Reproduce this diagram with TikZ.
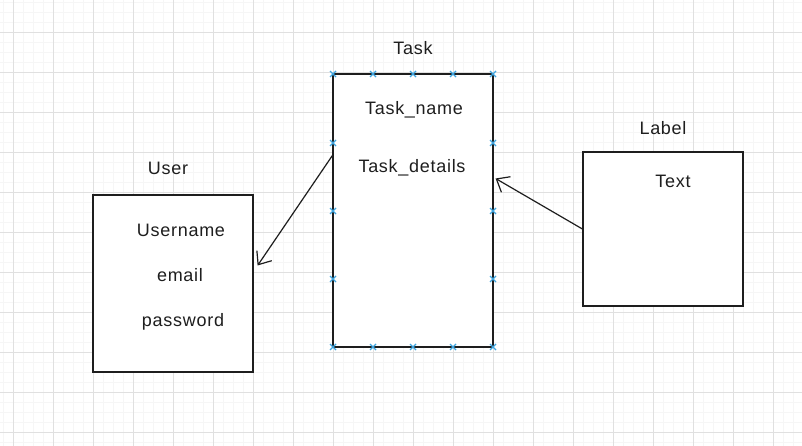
\documentclass[tikz,border=0pt]{standalone}
\usepackage{fontspec}
\setmainfont[LetterSpace=4]{Liberation Sans}
\usetikzlibrary{arrows.meta}
\definecolor{gridmajor}{HTML}{E0E0E0}
\definecolor{gridminor}{HTML}{F6F6F6}
\definecolor{ink}{HTML}{1E1E1E}
\definecolor{handle}{HTML}{3DA5E0}
\tikzset{
  entity/.style={draw=ink, line width=1.2pt, fill=white, rectangle, inner sep=0pt},
  lbl/.style={text=ink, font=\fontsize{18}{21}\selectfont, inner sep=0pt, anchor=center},
  conn/.style={draw=ink, line width=1.2pt, -{Straight Barb[length=11pt,width=18pt,line width=1.2pt]}},
  handlestyle/.style={draw=handle, line width=1.1pt}
}
\newcommand{\handlemark}[2]{\draw[handlestyle] (#1-3,#2-3) -- (#1+3,#2+3) (#1-3,#2+3) -- (#1+3,#2-3);}
\begin{document}
\begin{tikzpicture}[x=1pt,y=-1pt]
\useasboundingbox (0,0) rectangle (802,446);
\fill[white] (0,0) rectangle (802,446);
% minor grid
\foreach \x in {3,13,...,803} \draw[gridminor, line width=0.6pt] (\x,0) -- (\x,446);
\foreach \y in {2,12,...,446} \draw[gridminor, line width=0.6pt] (0,\y) -- (802,\y);
% major grid
\foreach \x in {13,53,...,800} \draw[gridmajor, line width=0.9pt] (\x,0) -- (\x,446);
\foreach \y in {32,72,...,446} \draw[gridmajor, line width=0.9pt] (0,\y) -- (802,\y);

% boxes
\node[entity, minimum width=160pt, minimum height=273pt] (task) at (413,210.5) {};
\node[entity, minimum width=160pt, minimum height=177pt] (user) at (173,283.5) {};
\node[entity, minimum width=160pt, minimum height=154pt] (label) at (663,229) {};

% titles
\node[lbl] (tasktitle) at (413,48) {Task};
\node[lbl] (usertitle) at (168,168) {User};
\node[lbl] (labeltitle) at (663,128) {Label};

% fields
\node[lbl] (taskname) at (414,110) {Task\_name};
\node[lbl] (taskdetails) at (412,168) {Task\_details};
\node[lbl] (username) at (181,230) {Username};
\node[lbl] (email) at (180,275) {email};
\node[lbl] (password) at (183,322) {password};
\node[lbl] (text) at (673,181) {Text};

% connectors
\draw[conn] ([yshift=55pt]task.west) -- ([xshift=4pt,yshift=18pt]user.east);
\draw[conn] (label.west) -- ([xshift=2pt,yshift=32pt]task.east);

% selection handles on Task
\foreach \x in {333,373,413,453,493} {\handlemark{\x}{74} \handlemark{\x}{347}}
\foreach \y in {143,211,279} {\handlemark{333}{\y} \handlemark{493}{\y}}
\end{tikzpicture}
\end{document}
